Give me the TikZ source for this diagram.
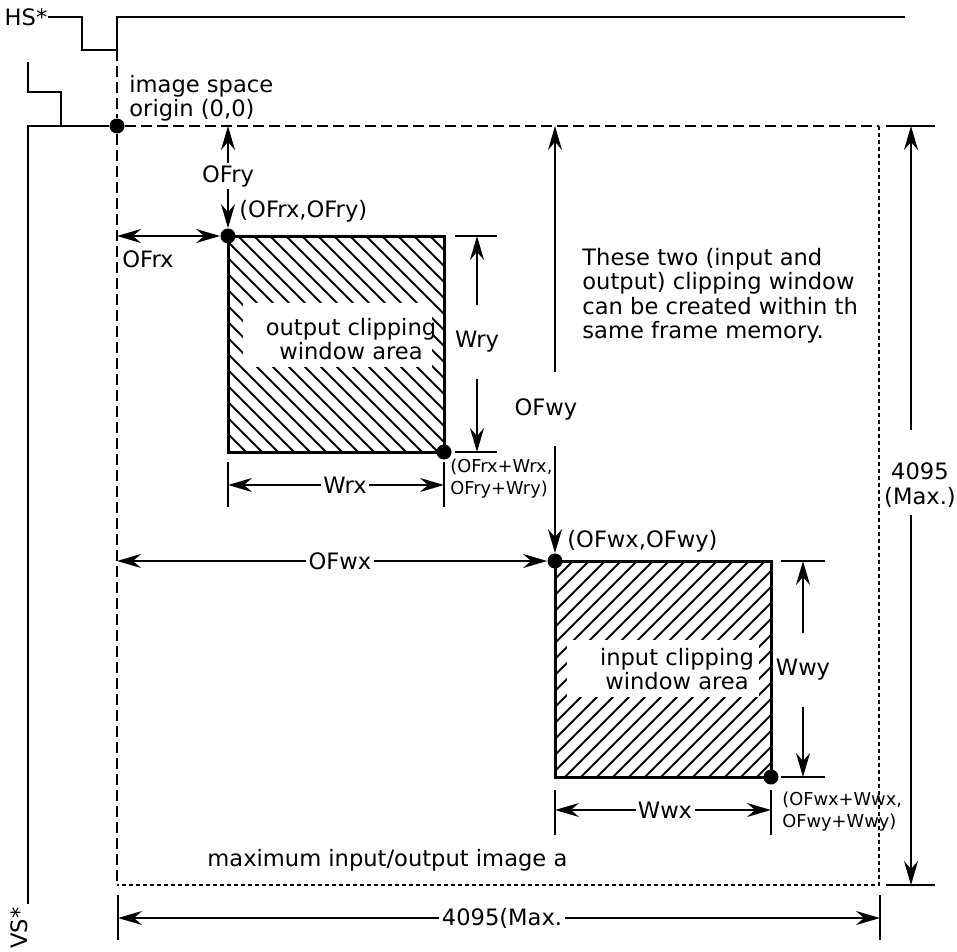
\documentclass[tikz,border=0pt]{standalone}
\usepackage{fontspec}
\setmainfont{DejaVu Sans}
\usetikzlibrary{arrows.meta,calc}
\begin{document}
\begin{tikzpicture}[x=0.5bp,y=-0.5bp,
  ln/.style={line width=0.8bp},
  winbox/.style={line width=1.5bp},
  hatchln/.style={line width=0.9bp},
  dimln/.style={ln,-{Stealth[length=12bp,width=7bp,inset=4bp]}},
  dimboth/.style={ln,{Stealth[length=12bp,width=7bp,inset=4bp]}-{Stealth[length=12bp,width=7bp,inset=4bp]}},
  bigdash/.style={ln,dash pattern=on 5.5bp off 2.5bp},
  finedash/.style={ln,dash pattern=on 2bp off 1.5bp},
  lbl/.style={font=\fontsize{11.3bp}{12.2bp}\selectfont, inner sep=1bp},
  sml/.style={font=\fontsize{8.9bp}{11bp}\selectfont, inner sep=0, align=left},
  blackdot/.style={circle,fill=black,inner sep=0,minimum size=7.5bp},
]
\useasboundingbox (0,0) rectangle (957,952);

% ---- signals
\node[lbl,inner sep=0] (hs) at (26,17) {HS*};
\draw[ln] (hs.east) -- (82,17) -- (82,50) -- (117,50) -- (117,17) -- (905,17);
\node[blackdot] (o) at (117,126) {};
\node[lbl,inner sep=0,rotate=90] (vs) at (19,928) {VS*};
\draw[ln] (28,904) -- (28,126) -- (o);
\draw[ln] (28,62) -- (28,92) -- (61,92) -- (61,126);

% ---- image area frame
\draw[bigdash] (117,50) -- (o);
\draw[bigdash] (o) -- (879,126);
\draw[bigdash] (o) -- (117,885);
\draw[finedash] (879,126) -- (879,885) -- (117,885);

\node[lbl,anchor=west,align=left,inner sep=0] (origin) at (129,98) {image space\\origin (0,0)};

% ---- output window
\begin{scope}
  \clip (228,236) rectangle (444,452);
  \foreach \d in {-232,-216,...,232} \draw[hatchln] ({230+\d},236) -- ++(240,240);
\end{scope}
\fill[white] (243,303) rectangle (432,367);
\draw[winbox] (228,236) rectangle (444,452);
\node[lbl,align=center] (owtxt) at (351,339) {output clipping\\window area};
\node[blackdot] (owTL) at (228,236) {};
\node[blackdot] (owBR) at (444,452) {};

% ---- input window
\begin{scope}
  \clip (555,561) rectangle (771,777);
  \foreach \d in {-232,-216,...,232} \draw[hatchln] ({557+\d},777) -- ++(240,-240);
\end{scope}
\fill[white] (567,640) rectangle (759,697);
\draw[winbox] (555,561) rectangle (771,777);
\node[lbl,align=center] (iwtxt) at (677,669) {input clipping\\window area};
\node[blackdot] (iwTL) at (555,561) {};
\node[blackdot] (iwBR) at (771,777) {};

% ---- OFry / OFrx
\coordinate (ofryTop) at (228,126);
\node[lbl] (ofry) at (228,176) {OFry};
\draw[dimln] (ofry) -- (ofryTop);
\draw[dimln] (ofry) -- (owTL);
\coordinate (ofrxL) at (117,236);
\draw[dimboth] (ofrxL) -- (owTL);
\node[lbl] (ofrx) at (148,259) {OFrx};
\node[lbl,anchor=west,inner sep=0] (ofrxy) at (239,211) {(OFrx,OFry)};

% ---- Wry
\draw[ln] (455,236) -- (497,236);
\draw[ln] (455,452) -- (497,452);
\coordinate (wryT) at (477,236);
\coordinate (wryB) at (477,452);
\node[lbl,minimum height=37bp] (wry) at (477,342) {Wry};
\draw[dimln] (wry) -- (wryT);
\draw[dimln] (wry) -- (wryB);

% ---- Wrx
\draw[ln] (228,462) -- (228,507);
\draw[ln] (444,462) -- (444,507);
\coordinate (wrxL) at (228,485);
\coordinate (wrxR) at (444,485);
\node[lbl] (wrx) at (345,485) {Wrx};
\draw[dimln] (wrx) -- (wrxL);
\draw[dimln] (wrx) -- (wrxR);
\node[sml,anchor=west] (orc) at (450,479) {(OFrx+Wrx,\\OFry+Wry)};

% ---- OFwy
\coordinate (ofwyTop) at (555,126);
\coordinate (ofwyA) at (555,372);
\coordinate (ofwyB) at (555,446);
\node[lbl] (ofwy) at (546,409) {OFwy};
\draw[dimln] (ofwyA) -- (ofwyTop);
\draw[dimln] (ofwyB) -- (iwTL);
\node[lbl,anchor=west,inner sep=0] (ofwxy) at (567,541) {(OFwx,OFwy)};

% ---- OFwx
\coordinate (ofwxL) at (117,561);
\node[lbl] (ofwx) at (340,561) {OFwx};
\draw[dimln] (ofwx) -- (ofwxL);
\draw[dimln] (ofwx) -- (iwTL);

% ---- Wwy
\draw[ln] (781,561) -- (825,561);
\draw[ln] (781,777) -- (825,777);
\coordinate (wwyT) at (803,561);
\coordinate (wwyB) at (803,777);
\node[lbl,minimum height=37bp] (wwy) at (803,670) {Wwy};
\draw[dimln] (wwy) -- (wwyT);
\draw[dimln] (wwy) -- (wwyB);

% ---- Wwx
\draw[ln] (555,790) -- (555,835);
\draw[ln] (771,790) -- (771,835);
\coordinate (wwxL) at (555,810);
\coordinate (wwxR) at (771,810);
\node[lbl] (wwx) at (665,810) {Wwx};
\draw[dimln] (wwx) -- (wwxL);
\draw[dimln] (wwx) -- (wwxR);
\node[sml,anchor=west] (irc) at (782,812) {(OFwx+Wwx,\\OFwy+Wwy)};

% ---- right 4095
\draw[ln] (886,126) -- (935,126);
\draw[ln] (886,885) -- (935,885);
\coordinate (rT) at (911,126);
\coordinate (rA) at (911,430);
\coordinate (rC) at (911,515);
\coordinate (rB) at (911,885);
\node[lbl,align=center] (r4095) at (920,485) {4095\\(Max.)};
\draw[dimln] (rA) -- (rT);
\draw[dimln] (rC) -- (rB);

% ---- bottom 4095
\draw[ln] (118,895) -- (118,940);
\draw[ln] (880,895) -- (880,940);
\coordinate (bL) at (118,918);
\coordinate (bR) at (880,918);
\node[lbl] (b4095) at (502,918) {4095(Max.};
\draw[dimln] (b4095) -- (bL);
\draw[dimln] (b4095) -- (bR);

% ---- texts
\node[lbl,anchor=west,inner sep=0] (maxarea) at (207,860) {maximum input/output image a};
\node[lbl,anchor=north west,align=left,inner sep=0] (note) at (582,248)
  {These two (input and\\output) clipping window\\can be created within th\\same frame memory.};
\end{tikzpicture}
\end{document}
